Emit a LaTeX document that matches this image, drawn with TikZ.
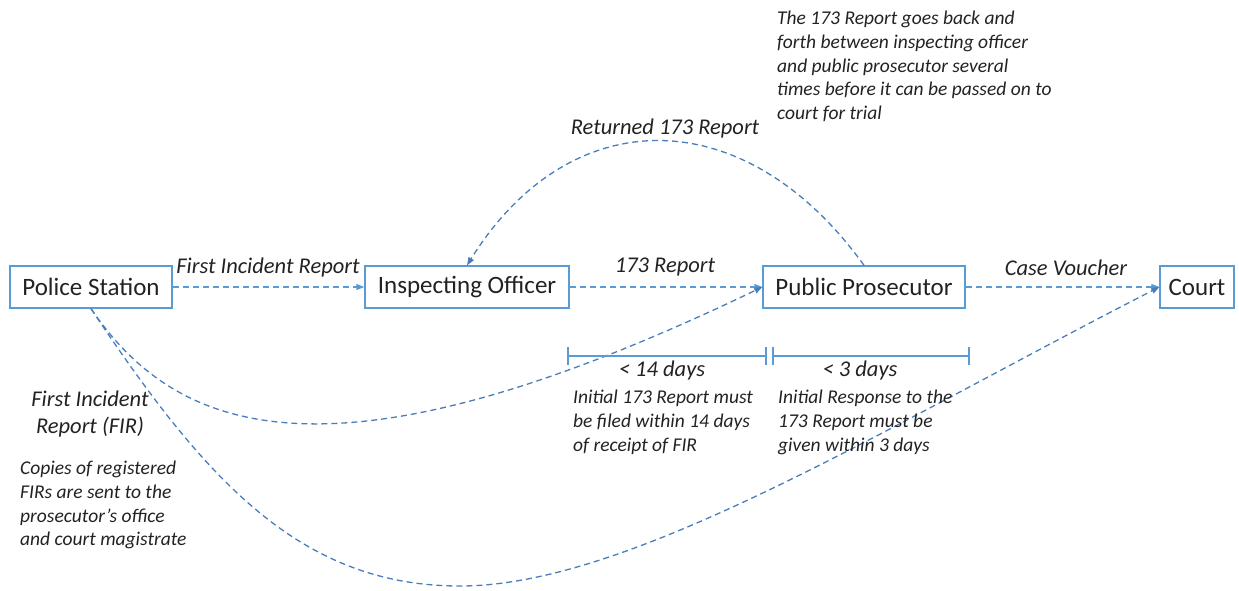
\documentclass[tikz,border=0pt]{standalone}
\usepackage{fontspec}
\setmainfont{Carlito}
\usetikzlibrary{arrows.meta}
\definecolor{boxblue}{HTML}{5B9BD5}
\definecolor{flowblue}{HTML}{5B9BD5}
\definecolor{curveblue}{HTML}{4A7EBB}
\definecolor{ink}{HTML}{222222}
\begin{document}
\begin{tikzpicture}[x=1pt,y=-1pt,
  every node/.style={text=ink},
  stagebox/.style={draw=boxblue, line width=1.3pt, minimum height=42pt, inner sep=0pt,
    font=\fontsize{25}{29}\selectfont},
  flowlabel/.style={font=\fontsize{22.5}{27}\selectfont\itshape},
  note/.style={font=\fontsize{19.5}{23.7}\selectfont\itshape, align=left, inner sep=0pt},
  flow/.style={draw=flowblue, line width=1.3pt, dash pattern=on 6pt off 4pt,
    -{Triangle[length=8pt,width=6pt]}},
  curveflow/.style={draw=curveblue, line width=1.3pt, dash pattern=on 6pt off 4pt,
    -{Triangle[length=8pt,width=6pt]}},
  span/.style={draw=boxblue, line width=1.3pt}
]
\useasboundingbox (0,0) rectangle (1239,590);

% stages
\node[stagebox, minimum width=162pt] (ps) at (91,287) {Police Station};
\node[stagebox, minimum width=204pt] (io) at (467,287) {Inspecting Officer};
\node[stagebox, minimum width=202pt] (pp) at (864,287) {Public Prosecutor};
\node[stagebox, minimum width=74pt] (court) at (1197,287) {Court};

% main flow
\draw[flow] (ps.east) -- (io.west);
\draw[flow] (io.east) -- (pp.west);
\draw[flow] (pp.east) -- (court.west);
\node[flowlabel] (l1) at (268,267) {First Incident Report};
\node[flowlabel] (l2) at (665,267) {173 Report};
\node[flowlabel] (l3) at (1066,268) {Case Voucher};

% report returned for revision
\draw[curveflow] (pp.north) .. controls (745,100) and (570,100) .. (io.north);
\node[flowlabel] (l4) at (665,128) {Returned 173 Report};

% FIR copies
\coordinate (low1) at (460,586);
\draw[curveflow] (ps.south) .. controls (180,440) and (340,490) .. (pp.west);
\draw[curveflow] (ps.south) .. controls (205,480) and (300,586) .. (low1)
  .. controls (630,586) and (880,430) .. (court.west);

% time limits
\coordinate (s1a) at (568,356);
\coordinate (s1b) at (766,356);
\coordinate (s2a) at (773,356);
\coordinate (s2b) at (969,356);
\draw[span] (s1a) -- (s1b);
\draw[span] ([yshift=-9pt]s1a) -- ([yshift=9pt]s1a);
\draw[span] ([yshift=-9pt]s1b) -- ([yshift=9pt]s1b);
\draw[span] (s2a) -- (s2b);
\draw[span] ([yshift=-9pt]s2a) -- ([yshift=9pt]s2a);
\draw[span] ([yshift=-9pt]s2b) -- ([yshift=9pt]s2b);
\node[flowlabel] (d1) at (662,370) {< 14 days};
\node[flowlabel] (d2) at (860,370) {< 3 days};

% notes
\node[note, anchor=north west] (n1) at (573,390) {Initial 173 Report must\\be filed within 14 days\\of receipt of FIR};
\node[note, anchor=north west] (n2) at (778,390) {Initial Response to the\\173 Report must be\\given within 3 days};
\node[note, anchor=north west] (n3) at (777,11) {The 173 Report goes back and\\forth between inspecting officer\\and public prosecutor several\\times before it can be passed on to\\court for trial};
\node[flowlabel, align=center] (fir) at (90,414) {First Incident\\Report (FIR)};
\node[note, anchor=north west] (n4) at (20,461) {Copies of registered\\FIRs are sent to the\\prosecutor’s office\\and court magistrate};
\end{tikzpicture}
\end{document}
